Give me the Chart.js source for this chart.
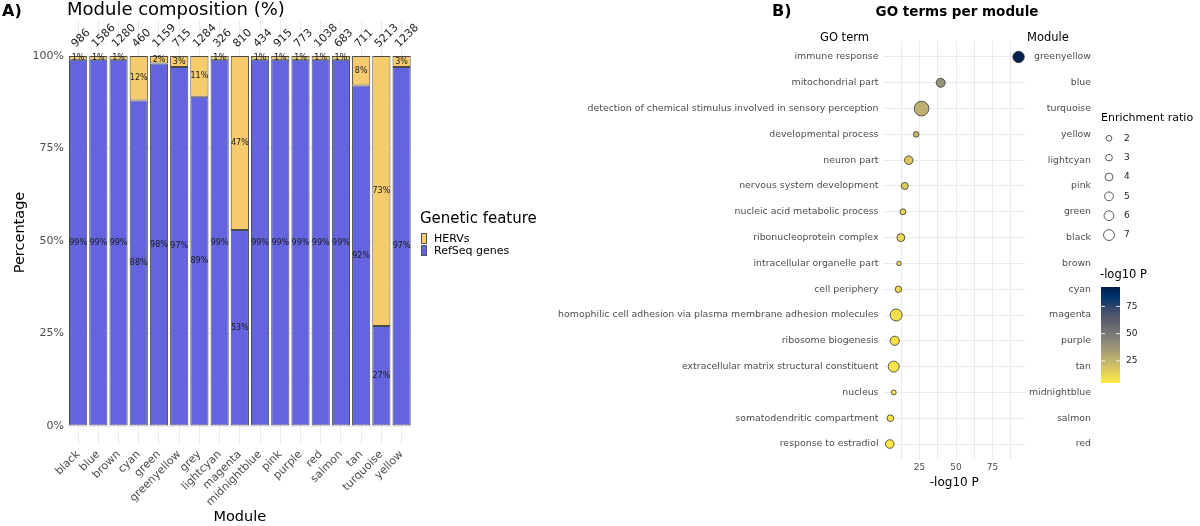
<!DOCTYPE html>
<html><head><meta charset="utf-8">
<script src="https://cdn.jsdelivr.net/npm/chart.js@4.4.1/dist/chart.umd.min.js"></script>
<style>
html,body{margin:0;padding:0;background:#fff;width:1200px;height:526px;overflow:hidden;font-family:"DejaVu Sans",sans-serif;}
.t{position:absolute;white-space:nowrap;line-height:1;color:#000;}
#ca{position:absolute;left:0;top:0;}
#cb{position:absolute;left:540px;top:0;}
.key{position:absolute;width:6px;height:11px;box-sizing:border-box;border:1px solid #555;}
</style></head><body>
<canvas id="ca" width="560" height="526"></canvas>
<canvas id="cb" width="660" height="526"></canvas>
<div class="t" style="left:2px;top:3px;font-size:16px;font-weight:bold">A)</div>
<div class="t" style="left:67px;top:0px;font-size:18px">Module composition (%)</div>
<div class="t" style="left:420px;top:211px;font-size:15px">Genetic feature</div>
<div class="key" style="left:421px;top:233px;background:#F5CB6D"></div>
<div class="key" style="left:421px;top:244.5px;background:#6464DE"></div>
<div class="t" style="left:434px;top:233px;font-size:11px">HERVs</div>
<div class="t" style="left:434px;top:244.5px;font-size:11px">RefSeq genes</div>
<div class="t" style="left:772px;top:3px;font-size:16px;font-weight:bold">B)</div>
<div class="t" style="left:857px;width:200px;text-align:center;top:5px;font-size:13.5px;font-weight:bold">GO terms per module</div>
<div class="t" style="left:820px;top:32px;font-size:11.5px">GO term</div>
<div class="t" style="left:1027px;top:32px;font-size:11.5px">Module</div>
<script>
// ---------- Panel A data ----------
const modules = ['black','blue','brown','cyan','green','greenyellow','grey','lightcyan','magenta','midnightblue','pink','purple','red','salmon','tan','turquoise','yellow'];
const geneCounts = [986,1586,1280,460,1159,715,1284,326,810,434,915,773,1038,683,711,5213,1238];
const refseqPct = [99,99,99,88,98,97,89,99,53,99,99,99,99,99,92,27,97];
const hervPct   = [1,1,1,12,2,3,11,1,47,1,1,1,1,1,8,73,3];
const pctTicks = [0,12.5,25,37.5,50,62.5,75,87.5,100];

// ---------- Panel B data ----------
const goTerms = ['immune response','mitochondrial part','detection of chemical stimulus involved in sensory perception','developmental process','neuron part','nervous system development','nucleic acid metabolic process','ribonucleoprotein complex','intracellular organelle part','cell periphery','homophilic cell adhesion via plasma membrane adhesion molecules','ribosome biogenesis','extracellular matrix structural constituent','nucleus','somatodendritic compartment','response to estradiol'];
const goModules = ['greenyellow','blue','turquoise','yellow','lightcyan','pink','green','black','brown','cyan','magenta','purple','tan','midnightblue','salmon','red'];
const log10P = [92.9,39.5,26.4,22.7,17.6,14.9,13.6,12.2,10.9,10.5,9.0,8.0,7.3,7.3,5.0,4.6];
const enrichRatio = [7.5,5.2,10.7,1.9,4.8,3.3,2.3,4.2,0.8,2.7,8.1,5.4,7.1,1.3,2.9,4.8];
const pTicks = [12.5,25,37.5,50,62.5,75,87.5];
const sizeLegend = [2,3,4,5,6,7];
const colorbarTicks = [25,50,75];

Chart.defaults.font.family = '"DejaVu Sans", sans-serif';
const BLUE = '#6464DE', YELLOW = '#F5CB6D', GRID = '#EBEBEB', TICK = '#4D4D4D';

// ---------- Panel A ----------
const barLabels = {
  id: 'barLabels',
  afterDatasetsDraw(chart) {
    const {ctx, scales: {y}} = chart;
    ctx.save();
    ctx.font = '8px "DejaVu Sans"';
    ctx.fillStyle = '#1a1a1a';
    ctx.textAlign = 'center'; ctx.textBaseline = 'middle';
    chart.data.datasets.forEach((ds, di) => {
      chart.getDatasetMeta(di).data.forEach((el, i) => {
        ctx.fillText(ds.data[i] + '%', el.x, (el.y + el.base) / 2);
      });
    });
    ctx.font = '11px "DejaVu Sans"';
    ctx.fillStyle = '#222';
    ctx.textAlign = 'left'; ctx.textBaseline = 'alphabetic';
    const yc = y.getPixelForValue(102.2);
    chart.getDatasetMeta(0).data.forEach((el, i) => {
      ctx.save();
      ctx.translate(el.x - 2.5, yc);
      ctx.rotate(-Math.PI / 4);
      ctx.fillText(String(geneCounts[i]), 0, 0);
      ctx.restore();
    });
    ctx.restore();
  }
};

new Chart(document.getElementById('ca'), {
  type: 'bar',
  data: {
    labels: modules,
    datasets: [
      {label: 'RefSeq genes', data: refseqPct, backgroundColor: BLUE, borderColor: '#4a4a4a', borderWidth: 1, borderSkipped: false, categoryPercentage: 1, barPercentage: 0.9},
      {label: 'HERVs', data: hervPct, backgroundColor: YELLOW, borderColor: '#4a4a4a', borderWidth: 1, borderSkipped: false, categoryPercentage: 1, barPercentage: 0.9}
    ]
  },
  options: {
    responsive: false, animation: false,
    layout: {padding: {top: 20, right: 148.3, left: 0, bottom: 0}},
    plugins: {legend: {display: false}, tooltip: {enabled: false}},
    scales: {
      x: {
        stacked: true,
        grid: {offset: false, color: GRID, drawTicks: false},
        border: {display: false},
        ticks: {minRotation: 45, maxRotation: 45, autoSkip: false, padding: 3, color: TICK, font: {size: 11}},
        title: {display: true, text: 'Module', color: '#000', font: {size: 14.5}, padding: {top: 0, bottom: 0}},
        afterFit(s) { s.height = 81; }
      },
      y: {
        stacked: true, min: -5.135, max: 109.73,
        afterBuildTicks(s) { s.ticks = pctTicks.map(v => ({value: v})); },
        ticks: {callback: v => (v % 25 === 0 ? v + '%' : ''), color: TICK, font: {size: 11}, padding: 4, autoSkip: false},
        grid: {color: GRID, drawTicks: false, lineWidth: c => (c.tick && c.tick.value % 25 === 0 ? 1 : 0.5)},
        border: {display: false},
        title: {display: true, text: 'Percentage', color: '#000', font: {size: 14.5}, padding: {top: 12, bottom: 0}},
        afterFit(s) { s.width = 68; }
      }
    }
  },
  plugins: [barLabels]
});

// ---------- Panel B ----------
const cividis = ['#00204D','#00336F','#39486B','#575C6D','#707173','#8A8779','#A69D75','#C4B56C','#E4CF5B','#FFEA46'];
const cMin = Math.min(...log10P), cMax = Math.max(...log10P);
function hex2rgb(h) { return [1,3,5].map(k => parseInt(h.substr(k, 2), 16)); }
function cividisAt(t) {
  t = Math.max(0, Math.min(1, t)) * (cividis.length - 1);
  const i = Math.min(Math.floor(t), cividis.length - 2), f = t - i;
  const a = hex2rgb(cividis[i]), b = hex2rgb(cividis[i + 1]);
  return 'rgb(' + a.map((v, k) => Math.round(v + (b[k] - v) * f)).join(',') + ')';
}
function colorFor(v) { return cividisAt(1 - (v - cMin) / (cMax - cMin)); }
function radiusFor(er) { return 1.8 + 0.52 * er; }

const bLegend = {
  id: 'bLegend',
  afterDraw(chart) {
    const ctx = chart.ctx;
    ctx.save();
    ctx.fillStyle = '#000';
    ctx.textAlign = 'left'; ctx.textBaseline = 'middle';
    ctx.font = '11px "DejaVu Sans"';
    ctx.fillText('Enrichment ratio', 561, 118);
    ctx.font = '9px "DejaVu Sans"';
    sizeLegend.forEach((er, i) => {
      const cy = 138.3 + i * 19.35;
      ctx.beginPath();
      ctx.arc(569, cy, radiusFor(er), 0, Math.PI * 2);
      ctx.fillStyle = '#fff'; ctx.fill();
      ctx.strokeStyle = '#333'; ctx.lineWidth = 0.8; ctx.stroke();
      ctx.fillStyle = '#1a1a1a';
      ctx.fillText(String(er), 584, cy);
    });
    ctx.font = '11.5px "DejaVu Sans"';
    ctx.fillStyle = '#000';
    ctx.fillText('-log10 P', 560, 275);
    const x0 = 561, w = 19, top = 287, bot = 383;
    for (let yy = top; yy < bot; yy++) {
      const v = cMax - (yy + 0.5 - top) / (bot - top) * (cMax - cMin);
      ctx.fillStyle = colorFor(v);
      ctx.fillRect(x0, yy, w, 1);
    }
    ctx.font = '9px "DejaVu Sans"';
    colorbarTicks.forEach(v => {
      const yy = bot - (v - cMin) / (cMax - cMin) * (bot - top);
      ctx.strokeStyle = '#fff'; ctx.lineWidth = 0.8;
      ctx.beginPath(); ctx.moveTo(x0, yy); ctx.lineTo(x0 + 4, yy); ctx.moveTo(x0 + w - 4, yy); ctx.lineTo(x0 + w, yy); ctx.stroke();
      ctx.fillStyle = '#1a1a1a';
      ctx.fillText(String(v), 586, yy);
    });
    ctx.restore();
  }
};

new Chart(document.getElementById('cb'), {
  type: 'scatter',
  data: {
    datasets: [{
      data: goTerms.map((t, i) => ({x: log10P[i], y: i + 1})),
      pointRadius: c => radiusFor(enrichRatio[c.dataIndex]),
      pointBackgroundColor: c => colorFor(log10P[c.dataIndex]),
      pointBorderColor: '#333', pointBorderWidth: 0.8,
      pointHoverRadius: c => radiusFor(enrichRatio[c.dataIndex])
    }]
  },
  options: {
    responsive: false, animation: false,
    layout: {padding: {top: 41.5, bottom: 36, left: 0, right: 109}},
    plugins: {legend: {display: false}, tooltip: {enabled: false}},
    scales: {
      x: {
        type: 'linear', min: 0.3, max: 97.3,
        afterBuildTicks(s) { s.ticks = pTicks.map(v => ({value: v})); },
        ticks: {callback: v => (v % 25 === 0 ? String(v) : ''), color: TICK, font: {size: 9}, padding: 3, maxRotation: 0, autoSkip: false},
        grid: {color: GRID, drawTicks: false},
        border: {display: false},
        title: {display: true, text: '-log10 P', color: '#000', font: {size: 12}, padding: {top: 0, bottom: 0}},
        afterFit(s) { s.height = 30.5; }
      },
      y: {
        type: 'linear', position: 'left', reverse: true, min: 0.4, max: 16.6,
        afterBuildTicks(s) { s.ticks = goTerms.map((_, i) => ({value: i + 1})); },
        ticks: {callback: v => goTerms[v - 1], color: TICK, font: {size: 9.4}, padding: 5, autoSkip: false},
        grid: {color: GRID, drawTicks: false},
        border: {display: false},
        afterFit(s) { s.width = 343.5; }
      },
      y2: {
        type: 'linear', position: 'right', reverse: true, min: 0.4, max: 16.6,
        afterBuildTicks(s) { s.ticks = goModules.map((_, i) => ({value: i + 1})); },
        ticks: {callback: v => goModules[v - 1], color: TICK, font: {size: 9.4}, padding: 4, autoSkip: false, crossAlign: 'far'},
        grid: {display: false, drawTicks: false},
        border: {display: false},
        afterFit(s) { s.width = 66; }
      }
    }
  },
  plugins: [bLegend]
});
</script>
</body></html>
